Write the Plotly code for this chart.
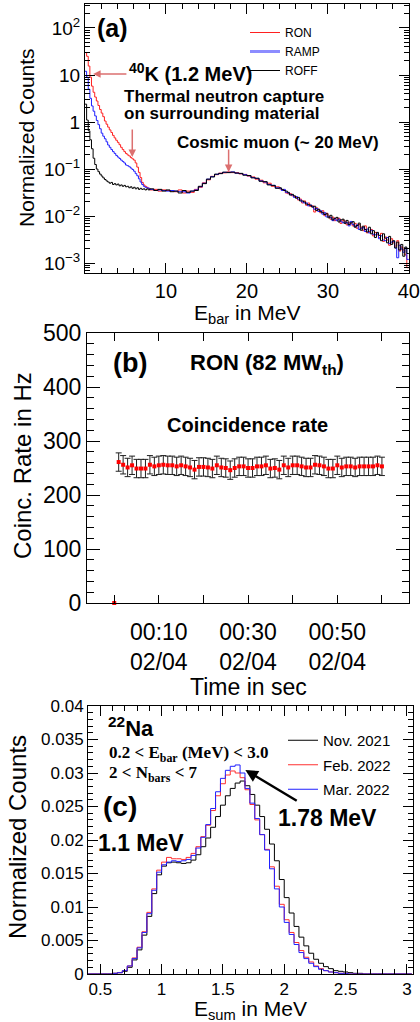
import numpy as np
import pandas as pd
import plotly.graph_objects as go

W, H = 420, 1022


def px(x, y):
    # pixel position on the page -> paper coordinates
    return x / W, 1 - y / H


# ---------------- panel (a): E_bar spectra ----------------
# bins: 0.2 MeV up to 8 MeV, 0.5 MeV up to 24 MeV, then 0.25 MeV up to 40 MeV
ebar_edges = np.concatenate([np.arange(0, 8.0, 0.2), np.arange(8.0, 24.0, 0.5),
                             np.arange(24.0, 40.0, 0.25), [40.0]]).round(2)

ron_low = [30, 25, 15.5, 9, 5.8, 4.3, 3.4, 2.8, 2.25, 1.85,
           1.55, 1.3, 1.05, 0.9, 0.78, 0.68, 0.6, 0.52, 0.46, 0.41,
           0.37, 0.33, 0.29, 0.26, 0.235, 0.215, 0.2, 0.19, 0.175, 0.165,
           0.155, 0.135, 0.11, 0.085, 0.066, 0.052, 0.046, 0.043, 0.041, 0.039]
ron_mid = [0.036, 0.037, 0.034, 0.036, 0.035, 0.034, 0.033, 0.036,
           0.031, 0.034, 0.032, 0.037, 0.041, 0.051, 0.059, 0.070,
           0.076, 0.082, 0.083, 0.087, 0.084, 0.084, 0.079, 0.077,
           0.071, 0.068, 0.061, 0.058, 0.051, 0.050, 0.043, 0.042]
ron_high = [0.038, 0.036, 0.036, 0.031, 0.030, 0.030, 0.027, 0.026,
            0.025, 0.022, 0.023, 0.019, 0.021, 0.017, 0.019, 0.0160,
            0.0165, 0.0122, 0.0150, 0.0135, 0.0118, 0.0130, 0.0102, 0.0115,
            0.0100, 0.0086, 0.0095, 0.0080, 0.0087, 0.0090, 0.0070, 0.0082,
            0.0078, 0.0065, 0.0074, 0.0069, 0.0062, 0.0070, 0.0055, 0.0066,
            0.0058, 0.0049, 0.0062, 0.0044, 0.0047, 0.0052, 0.0038, 0.0045,
            0.0040, 0.0035, 0.0043, 0.0029, 0.0036, 0.0031, 0.0024, 0.0033,
            0.0027, 0.0023, 0.0030, 0.0018, 0.0022, 0.0019, 0.0015, 0.0008]

ramp_low = [12, 9, 5, 3.2, 2.2, 1.7, 1.35, 1.08, 0.88, 0.72,
            0.58, 0.5, 0.44, 0.38, 0.325, 0.29, 0.26, 0.235, 0.215, 0.195,
            0.18, 0.168, 0.155, 0.145, 0.135, 0.122, 0.118, 0.112, 0.105, 0.098,
            0.09, 0.08, 0.072, 0.062, 0.053, 0.047, 0.043, 0.041, 0.04, 0.039]
ramp_mid = [0.037, 0.035, 0.036, 0.035, 0.034, 0.035, 0.034, 0.033,
            0.033, 0.031, 0.034, 0.036, 0.042, 0.050, 0.061, 0.069,
            0.077, 0.081, 0.085, 0.085, 0.087, 0.082, 0.080, 0.076,
            0.072, 0.066, 0.063, 0.056, 0.053, 0.047, 0.045, 0.040]
ramp_high = [0.039, 0.035, 0.037, 0.032, 0.031, 0.029, 0.028, 0.025,
             0.026, 0.023, 0.022, 0.020, 0.019, 0.019, 0.0165, 0.0172,
             0.0160, 0.0140, 0.0145, 0.0125, 0.0130, 0.0110, 0.0118, 0.0096,
             0.0097, 0.0092, 0.0080, 0.0088, 0.0080, 0.0086, 0.0078, 0.0072,
             0.0074, 0.0072, 0.0062, 0.0077, 0.0066, 0.0060, 0.0065, 0.0052,
             0.0055, 0.0057, 0.0047, 0.0053, 0.0044, 0.0050, 0.0041, 0.0040,
             0.0042, 0.0033, 0.0038, 0.0031, 0.0030, 0.0035, 0.0026, 0.0028,
             0.0029, 0.0021, 0.0013, 0.0024, 0.0020, 0.0017, 0.0021, 0.0012]

roff_low = [2.4, 1.1, 0.65, 0.42, 0.27, 0.17, 0.125, 0.1, 0.088, 0.078,
            0.071, 0.065, 0.06, 0.056, 0.053, 0.05, 0.052, 0.047, 0.049, 0.046,
            0.048, 0.044, 0.046, 0.043, 0.045, 0.042, 0.043, 0.04, 0.042, 0.039,
            0.041, 0.038, 0.04, 0.037, 0.039, 0.037, 0.038, 0.036, 0.038, 0.036]
roff_mid = [0.038, 0.035, 0.037, 0.034, 0.036, 0.033, 0.034, 0.031,
            0.035, 0.032, 0.034, 0.035, 0.043, 0.049, 0.061, 0.068,
            0.078, 0.080, 0.086, 0.084, 0.086, 0.082, 0.081, 0.074,
            0.073, 0.065, 0.064, 0.055, 0.054, 0.046, 0.045, 0.039]
roff_high = [0.040, 0.037, 0.035, 0.034, 0.032, 0.028, 0.029, 0.027,
             0.024, 0.025, 0.021, 0.021, 0.020, 0.018, 0.0175, 0.0170,
             0.0155, 0.0162, 0.0132, 0.0140, 0.0124, 0.0118, 0.0108, 0.0112,
             0.0092, 0.0104, 0.0083, 0.0090, 0.0094, 0.0075, 0.0083, 0.0086,
             0.0070, 0.0081, 0.0066, 0.0072, 0.0076, 0.0058, 0.0063, 0.0071,
             0.0050, 0.0061, 0.0052, 0.0046, 0.0058, 0.0042, 0.0049, 0.0035,
             0.0045, 0.0039, 0.0030, 0.0042, 0.0034, 0.0027, 0.0037, 0.0025,
             0.0030, 0.0021, 0.0028, 0.0019, 0.0025, 0.0014, 0.0022, 0.0016]

log_ticks = [1e-3, 1e-2, 1e-1, 1, 10, 100]
log_ticktext = ["10<sup>\u22123</sup>", "10<sup>\u22122</sup>", "10<sup>\u22121</sup>", "1", "10", "10<sup>2</sup>"]
ebar_ticks = [10, 20, 30, 40]

# ---------------- panel (b): coincidence rate ----------------
rate_times = pd.date_range("2022-04-02 00:01", periods=60, freq="1min")
rate_hz = [261, 256, 251, 255, 249, 249, 249, 256, 253, 255,
           256, 255, 255, 253, 255, 253, 251, 247, 252, 252,
           251, 249, 255, 251, 250, 246, 250, 253, 253, 250,
           250, 253, 253, 255, 249, 250, 247, 255, 251, 255,
           255, 253, 251, 251, 256, 255, 253, 249, 249, 255,
           251, 253, 253, 251, 253, 253, 253, 253, 255, 253]
rate_err = 17
start_time = ["2022-04-02 00:00"]
start_rate = [0]

# ---------------- panel (c): 22Na E_sum ----------------
esum_edges = np.arange(0.40, 3.0401, 0.04).round(2)
nov_2021 = [0, 0, 0, 0, 0, 0.0001, 0.0002, 0.0004, 0.0010, 0.0021,
            0.0036, 0.0058, 0.0086, 0.0120, 0.0148, 0.0161, 0.0166, 0.0167, 0.0166, 0.0165,
            0.0166, 0.0170, 0.0178, 0.0190, 0.0203, 0.0219, 0.0235, 0.0252, 0.0266, 0.0277,
            0.0285, 0.0288, 0.0281, 0.0268, 0.0252, 0.0235, 0.0216, 0.0194, 0.0169, 0.0141,
            0.0114, 0.0091, 0.0071, 0.0055, 0.0042, 0.0031, 0.0022, 0.0016, 0.0011, 0.0008,
            0.0005, 0.0004, 0.0003, 0.0002, 0.0001, 0.0001, 0, 0, 0, 0,
            0, 0, 0, 0, 0, 0]
feb_2022 = [0, 0, 0, 0, 0, 0.0001, 0.0002, 0.0005, 0.0012, 0.0024,
            0.0040, 0.0063, 0.0092, 0.0127, 0.0155, 0.0167, 0.0174, 0.0172, 0.0172, 0.0171,
            0.0174, 0.0180, 0.0190, 0.0205, 0.0222, 0.0244, 0.0266, 0.0284, 0.0297, 0.0303,
            0.0300, 0.0293, 0.0275, 0.0253, 0.0230, 0.0208, 0.0186, 0.0160, 0.0131, 0.0104,
            0.0081, 0.0062, 0.0047, 0.0035, 0.0025, 0.0018, 0.0012, 0.0008, 0.0005, 0.0003,
            0.0002, 0.0001, 0.0001, 0, 0, 0, 0, 0, 0, 0,
            0, 0, 0, 0, 0, 0]
mar_2022 = [0, 0, 0, 0, 0, 0.0001, 0.0002, 0.0005, 0.0012, 0.0023,
            0.0039, 0.0062, 0.0090, 0.0125, 0.0152, 0.0163, 0.0167, 0.0169, 0.0168, 0.0169,
            0.0171, 0.0177, 0.0188, 0.0204, 0.0223, 0.0247, 0.0272, 0.0292, 0.0304, 0.0310,
            0.0312, 0.0300, 0.0277, 0.0255, 0.0232, 0.0208, 0.0185, 0.0157, 0.0127, 0.0100,
            0.0077, 0.0059, 0.0044, 0.0032, 0.0023, 0.0016, 0.0011, 0.0007, 0.0005, 0.0003,
            0.0002, 0.0001, 0.0001, 0, 0, 0, 0, 0, 0, 0,
            0, 0, 0, 0, 0, 0]
esum_ticks = [0.5, 1, 1.5, 2, 2.5, 3]
esum_ticktext = ["0.5", "1", "1.5", "2", "2.5", "3"]
count_ticks = [0, 0.005, 0.01, 0.015, 0.02, 0.025, 0.03, 0.035, 0.04]
count_ticktext = ["0", "0.005", "0.01", "0.015", "0.02", "0.025", "0.03", "0.035", "0.04"]


def steps(edges, values):
    # histogram outline: repeat the last value at the closing edge
    return list(edges), list(values) + [values[-1]]


fig = go.Figure()

# panel (a)
for name, vals, color in [("RON", ron_low + ron_mid + ron_high, "#ff2020"),
                          ("RAMP", ramp_low + ramp_mid + ramp_high, "#1f1fff"),
                          ("ROFF", roff_low + roff_mid + roff_high, "black")]:
    x, y = steps(ebar_edges, vals)
    fig.add_trace(go.Scatter(x=x, y=y, mode="lines", line=dict(color=color, width=1, shape="hv"),
                             name=name, xaxis="x", yaxis="y", legend="legend",
                             showlegend=(name != "RAMP")))
    if name == "RON":
        # legend sample for RAMP is drawn lighter and thicker
        fig.add_trace(go.Scatter(x=[None], y=[None], mode="lines", name="RAMP",
                                 line=dict(color="#8c8cff", width=3), xaxis="x", yaxis="y",
                                 legend="legend"))

# panel (b)
fig.add_trace(go.Scatter(x=rate_times, y=rate_hz, mode="markers", xaxis="x2", yaxis="y2",
                         marker=dict(symbol="square", size=4, color="red"),
                         error_y=dict(type="constant", value=rate_err, color="#202020",
                                      thickness=1, width=3),
                         showlegend=False))
fig.add_trace(go.Scatter(x=start_time, y=start_rate, mode="markers", xaxis="x2", yaxis="y2",
                         marker=dict(symbol="square", size=4, color="red"), showlegend=False,
                         cliponaxis=False))

# panel (c)
for i, (name, vals, color) in enumerate([("Nov. 2021", nov_2021, "black"),
                                         ("Feb. 2022", feb_2022, "#ff3030"),
                                         ("Mar. 2022", mar_2022, "#2020ff")]):
    x, y = steps(esum_edges, vals)
    fig.add_trace(go.Scatter(x=x, y=y, mode="lines", line=dict(color=color, width=1, shape="hv"),
                             name=name, xaxis="x3", yaxis="y3", legend="legend3",
                             legendgroup=f"g{i}"))

frame = dict(showline=True, linecolor="black", linewidth=1, mirror="allticks",
             ticks="inside", tickcolor="black", showgrid=False, zeroline=False,
             automargin=False)

fig.update_layout(
    width=W, height=H, margin=dict(l=0, r=0, t=0, b=0, autoexpand=False),
    paper_bgcolor="white", plot_bgcolor="white",
    font=dict(family="Liberation Sans, Arial, sans-serif", color="black"),
    xaxis=dict(domain=[85 / W, 409 / W], anchor="y", range=[0, 40.02], tickvals=ebar_ticks,
               ticklen=10, tickfont=dict(size=20),
               minor=dict(ticks="inside", ticklen=5, dtick=2, tick0=0, tickcolor="black"), **frame),
    yaxis=dict(domain=[1 - 273 / H, 1 - 4 / H], anchor="x", type="log", range=[-3.21, 2.51],
               tickvals=log_ticks, ticktext=log_ticktext, ticklen=10, tickfont=dict(size=19),
               minor=dict(ticks="inside", ticklen=5, dtick="D1", tickcolor="black"), **frame),
    xaxis2=dict(domain=[87 / W, 409 / W], anchor="y2", type="date",
                range=["2022-04-01 23:53:54", "2022-04-02 01:06:04"],
                tick0="2022-04-02 00:10", dtick=600000, ticklabelstep=2,
                tickformat="%H:%M<br>%d/%m", ticklen=8, tickfont=dict(size=23),
                ticklabelstandoff=8, **frame),
    yaxis2=dict(domain=[1 - 603 / H, 1 - 333 / H], anchor="x2", range=[0, 500], dtick=100,
                ticklen=13, tickfont=dict(size=23),
                minor=dict(ticks="inside", ticklen=7, dtick=20, tickcolor="black"), **frame),
    xaxis3=dict(domain=[88 / W, 413 / W], anchor="y3", range=[0.4, 3.05], tickvals=esum_ticks,
                ticktext=esum_ticktext, ticklen=10, tickfont=dict(size=17),
                minor=dict(ticks="inside", ticklen=5, dtick=0.1, tick0=0, tickcolor="black"), **frame),
    yaxis3=dict(domain=[1 - 974 / H, 1 - 706 / H], anchor="x3", range=[0, 0.04],
                tickvals=count_ticks, ticktext=count_ticktext, ticklen=10, tickfont=dict(size=17),
                minor=dict(ticks="inside", ticklen=5, dtick=0.001, tick0=0, tickcolor="black"), **frame),
    legend=dict(x=245 / W, y=1 - 18 / H, xanchor="left", yanchor="top", font=dict(size=12),
                bgcolor="rgba(0,0,0,0)", borderwidth=0),
    legend3=dict(x=283 / W, y=1 - 724 / H, xanchor="left", yanchor="top", font=dict(size=15),
                 bgcolor="rgba(0,0,0,0)", borderwidth=0, tracegroupgap=2),
)

notes = []


def text(s, x, y, size, xanchor="left", angle=0, family=None):
    xp, yp = px(x, y)
    f = dict(size=size, color="black")
    if family:
        f["family"] = family
    notes.append(dict(text=s, x=xp, y=yp, xref="paper", yref="paper", xanchor=xanchor,
                      yanchor="middle", showarrow=False, font=f, textangle=angle))


def arrow(x, y, ax, ay, xr, yr, color, width, head=2, size=1.0):
    notes.append(dict(text="", x=x, y=y, ax=ax, ay=ay, xref=xr, yref=yr, axref=xr, ayref=yr,
                      showarrow=True, arrowhead=head, arrowsize=size, arrowwidth=width,
                      arrowcolor=color))


# panel (a) labels
text("<b>(a)</b>", 95, 28, 25)
text("<b><sup>40</sup>K (1.2 MeV)</b>", 127, 73, 20)
text("<b>Thermal neutron capture</b>", 122, 96, 17)
text("<b>on surrounding material</b>", 122, 114, 17)
text("<b>Cosmic muon (~ 20 MeV)</b>", 175, 142, 17)
text("Normalized Counts", 27, 138, 21, xanchor="center", angle=-90)
text("E<sub>bar</sub> in MeV", 247, 314, 21, xanchor="center")
salmon = "#dc7070"
arrow(1.0, 1.02, 5.3, 1.02, "x", "y", salmon, 1.5)
arrow(5.84, -0.745, 5.84, -0.128, "x", "y", salmon, 1.5)
arrow(17.74, -1.064, 17.74, -0.553, "x", "y", salmon, 1.5)

# panel (b) labels
text("<b>(b)</b>", 111, 363, 27)
text("<b>RON (82 MW<sub>th</sub>)</b>", 188, 364, 22)
text("<b>Coincidence rate</b>", 165, 425, 20)
text("Coinc. Rate in Hz", 23, 466, 24, xanchor="center", angle=-90)
text("Time in sec", 248, 687, 23, xanchor="center")

# panel (c) labels
serif = "Liberation Serif, Times New Roman, serif"
text("<b><sup>22</sup>Na</b>", 106, 727, 22)
text("<b>0.2 &lt; E<sub>bar</sub> (MeV) &lt; 3.0</b>", 107, 754, 17, family=serif)
text("<b>2 &lt; N<sub>bars</sub> &lt; 7</b>", 107, 774, 17, family=serif)
text("<b>(c)</b>", 101, 806, 28)
text("<b>1.1 MeV</b>", 96, 843, 23)
text("<b>1.78 MeV</b>", 276, 818, 23)
text("Normalized Counts", 17, 837, 24, xanchor="center", angle=-90)
text("E<sub>sum</sub> in MeV", 250, 1010, 21, xanchor="center")
arrow(1.683, 0.03045, 2.114, 0.02572, "x3", "y3", "black", 2.5)

fig.update_layout(annotations=notes)
# the page body keeps the browser's default margin otherwise
fig.write_html("out.html", config={"displayModeBar": False},
               post_script="document.body.style.margin = '0';")
